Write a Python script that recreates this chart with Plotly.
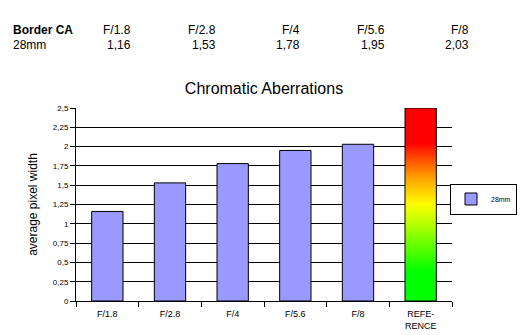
import plotly.graph_objects as go
import numpy as np

# ---- data ----
apertures = ["F/1.8", "F/2.8", "F/4", "F/5.6", "F/8"]
ca_28mm = [1.16, 1.53, 1.78, 1.95, 2.03]
ref_label = "REFE-<br>RENCE"
ref_value = 2.5
table_title = "Border CA"
series_name = "28mm"
y_ticks = [0, 0.25, 0.5, 0.75, 1, 1.25, 1.5, 1.75, 2, 2.25, 2.5]

W, H = 532, 335
ML, MR, MT, MB = 76, 80, 108, 34
PW, PH = W - ML - MR, H - MT - MB
FONT = "Arial, Liberation Sans, sans-serif"

def px2paper(x, y):
    return (x - ML) / PW, (H - MB - y) / PH

categories = apertures + [ref_label]

fig = go.Figure()

# blue bars
fig.add_trace(go.Bar(
    x=apertures, y=ca_28mm, name=series_name, width=0.5,
    marker=dict(color="#9999FF", line=dict(color="black", width=1)),
    xaxis="x", yaxis="y", showlegend=True,
))

# gradient reference bar via heatmap on overlay numeric axis
ref_idx = len(categories) - 1
n = 200
yedges = np.linspace(0, ref_value, n + 1)
zc = ((yedges[:-1] + yedges[1:]) / 2).reshape(-1, 1)
fig.add_trace(go.Heatmap(
    x=[ref_idx - 0.25, ref_idx + 0.25], y=yedges, z=zc,
    zmin=0, zmax=ref_value,
    colorscale=[[0, "#00FF00"], [0.15, "#00FF00"], [0.5, "#FFFF00"],
                [0.65, "#FF9900"], [0.82, "#FF0000"], [1, "#FF0000"]],
    showscale=False, hoverinfo="skip",
    xaxis="x2", yaxis="y",
))
fig.add_trace(go.Bar(
    x=[ref_idx], y=[ref_value], width=0.5, showlegend=False,
    marker=dict(color="rgba(0,0,0,0)", line=dict(color="black", width=1)),
    xaxis="x2", yaxis="y",
))

ann = []
# header table
col_right0, col_step = 133, 84.5
tfont = dict(family=FONT, size=12, color="black")
xl, yl = px2paper(11, 30)
ann.append(dict(x=xl, y=yl, xref="paper", yref="paper", text="<b>%s</b>" % table_title,
                showarrow=False, xanchor="left", yanchor="middle", font=tfont))
xl, yl = px2paper(11, 45)
ann.append(dict(x=xl, y=yl, xref="paper", yref="paper", text=series_name,
                showarrow=False, xanchor="left", yanchor="middle", font=tfont))
for i, (a, v) in enumerate(zip(apertures, ca_28mm)):
    xr = col_right0 + i * col_step
    xp, yp = px2paper(xr, 30)
    ann.append(dict(x=xp, y=yp, xref="paper", yref="paper", text=a,
                    showarrow=False, xanchor="right", yanchor="middle", font=tfont))
    xp, yp = px2paper(xr, 45)
    ann.append(dict(x=xp, y=yp, xref="paper", yref="paper",
                    text=("%.2f" % v).replace(".", ","),
                    showarrow=False, xanchor="right", yanchor="middle", font=tfont))

lx, ly = px2paper(450, 199)

fig.update_layout(
    width=W, height=H,
    margin=dict(l=ML, r=MR, t=MT, b=MB, pad=0, autoexpand=False),
    paper_bgcolor="white", plot_bgcolor="white",
    separators=",.",
    font=dict(family=FONT, size=8, color="black"),
    title=dict(text="Chromatic Aberrations", x=0.5, xref="paper",
               y=1 - 88 / H, yref="container", xanchor="center", yanchor="middle",
               font=dict(family=FONT, size=16, color="black")),
    xaxis=dict(type="category", categoryorder="array", categoryarray=categories,
               range=[-0.5, len(categories) - 0.5], automargin=False,
               showline=True, linecolor="black", linewidth=1,
               ticks="outside", tickson="boundaries", ticklen=5, tickcolor="black",
               ticklabelstandoff=4,
               showgrid=False, zeroline=False,
               tickfont=dict(family=FONT, size=9, color="black")),
    xaxis2=dict(overlaying="x", range=[-0.5, len(categories) - 0.5],
                visible=False, showgrid=False, zeroline=False),
    yaxis=dict(range=[0, 2.5], tickvals=y_ticks, automargin=False,
               showline=True, linecolor="black", linewidth=1,
               showgrid=True, gridcolor="black", gridwidth=1,
               zeroline=False, ticks="outside", ticklen=5, tickcolor="black",
               tickfont=dict(family=FONT, size=8, color="black"),
               title=dict(text="average pixel width", standoff=12,
                          font=dict(family=FONT, size=12, color="black"))),
    legend=dict(x=lx, y=ly, xref="paper", yref="paper", xanchor="left", yanchor="middle",
                bordercolor="black", borderwidth=1, bgcolor="white",
                font=dict(family=FONT, size=7, color="black"),
                itemwidth=30, tracegroupgap=0),
    annotations=ann,
)

fig.write_html("out.html")
